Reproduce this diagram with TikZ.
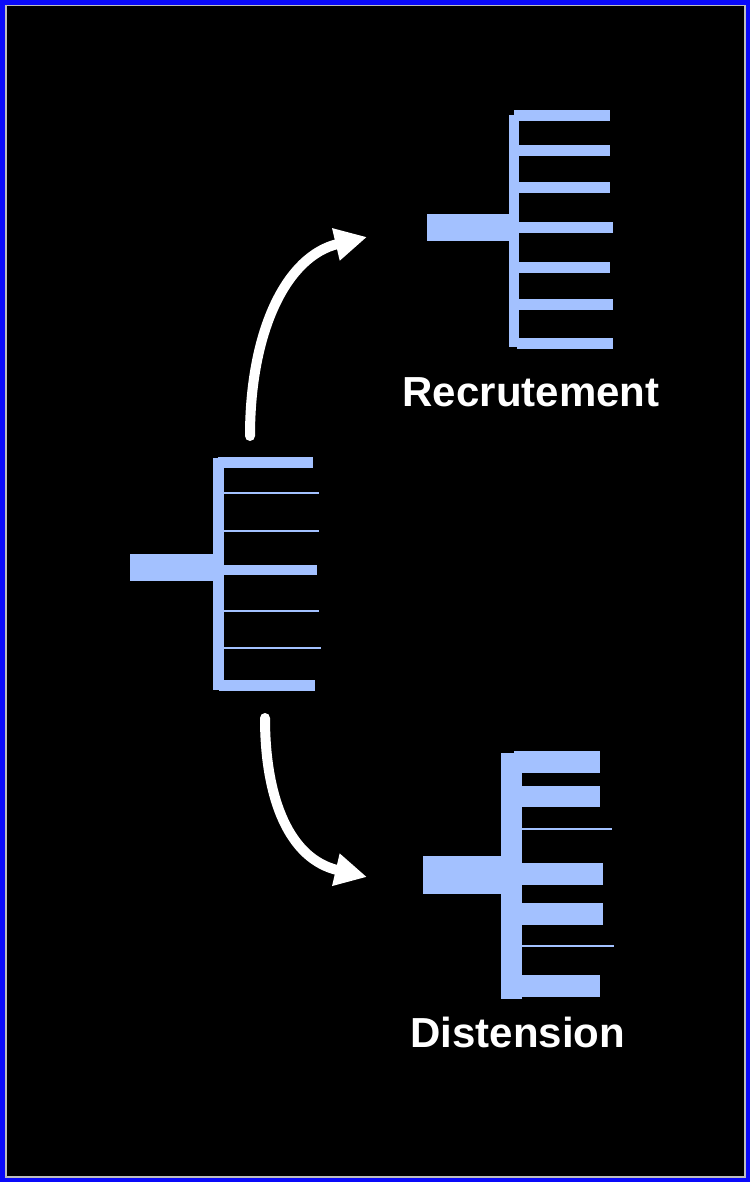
\documentclass[tikz,border=0pt]{standalone}
\usepackage{fontspec}
\newfontfamily\labfont{Liberation Sans}
\usetikzlibrary{arrows.meta}
\definecolor{frameblue}{RGB}{10,10,250}
\definecolor{framegrey}{RGB}{190,190,190}
\definecolor{barblue}{RGB}{163,193,255}
\tikzset{
  bar/.style={fill=barblue},
  flow/.style={draw=white, line width=10pt, line cap=round,
    -{Triangle[length=32pt,width=31pt]}},
  lab/.style={text=white, inner sep=0pt, anchor=base,
    font=\labfont\bfseries\fontsize{42}{42}\selectfont}
}
\begin{document}
\begin{tikzpicture}[x=1pt,y=-1pt]
\useasboundingbox (0,0) rectangle (750,1182);
% frame
\fill[frameblue] (0,0) rectangle (750,1182);
\fill[framegrey] (5,5) rectangle (746,1177.5);
\fill[black] (6.5,6.5) rectangle (744.3,1176);

% top comb (Recrutement)
\fill[bar] (509,115) rectangle (519.3,347);
\fill[bar] (427.3,214.3) rectangle (509.5,240.7);
\fill[bar] (514.3,110) rectangle (610,120.7);
\fill[bar] (519,145) rectangle (610,155.7);
\fill[bar] (519,182.3) rectangle (610,192.7);
\fill[bar] (519,222.3) rectangle (612.7,232.7);
\fill[bar] (519,262.3) rectangle (610,272.7);
\fill[bar] (519,299.3) rectangle (612.7,310);
\fill[bar] (516.7,338.3) rectangle (612.7,349);

% middle comb
\fill[bar] (213.3,458.3) rectangle (224.3,690);
\fill[bar] (130.3,554.3) rectangle (213.8,580.7);
\fill[bar] (217.7,457.3) rectangle (313.3,468);
\fill[bar] (224,492) rectangle (318.7,494);
\fill[bar] (224,529.7) rectangle (318.7,531.7);
\fill[bar] (224,565) rectangle (317.3,575.3);
\fill[bar] (224,609.7) rectangle (318.7,611.5);
\fill[bar] (224,646.5) rectangle (321,648.5);
\fill[bar] (218.7,680.3) rectangle (314.7,690.7);

% bottom comb (Distension)
\fill[bar] (500.5,752.7) rectangle (521.5,999.3);
\fill[bar] (423.3,855.7) rectangle (501,893.7);
\fill[bar] (514.3,751.3) rectangle (600.3,772.7);
\fill[bar] (521,786) rectangle (600.3,807.3);
\fill[bar] (521,828) rectangle (611.7,830);
\fill[bar] (521,863.3) rectangle (603,885);
\fill[bar] (521,903.3) rectangle (603,924.7);
\fill[bar] (521,945.3) rectangle (614,947.3);
\fill[bar] (521,975.3) rectangle (600.3,996.7);

% labels
\node[lab] (recr) at (531,406.7) {Recrutement};
\node[lab] (dist) at (517.7,1047.7) {Distension};

% arrows
\coordinate (upS) at (250,436);
\coordinate (upE) at (367,237);
\coordinate (dnS) at (265,718);
\coordinate (dnE) at (367,877);
\draw[flow] (upS) .. controls (250,330) and (287,256) .. (upE);
\draw[flow] (dnS) .. controls (265,800) and (290,859) .. (dnE);
\end{tikzpicture}
\end{document}
